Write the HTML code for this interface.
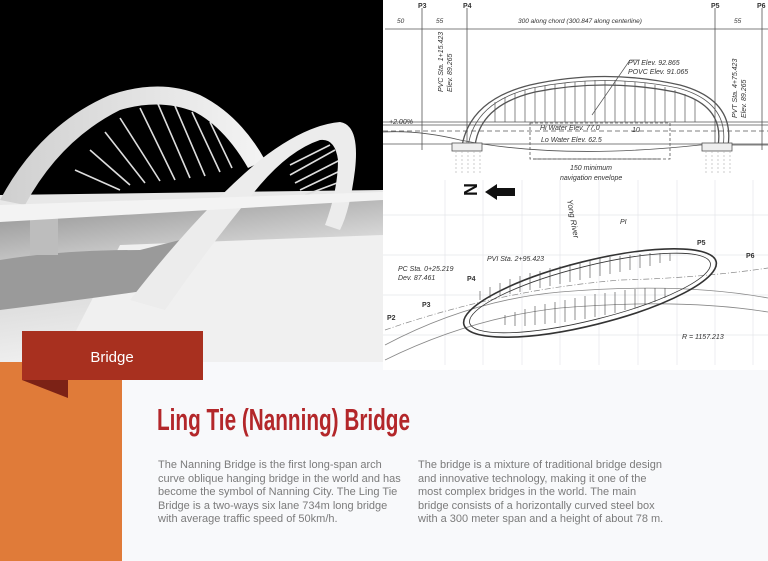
<!DOCTYPE html>
<html><head><meta charset="utf-8"><style>
*{margin:0;padding:0}
body{width:768px;height:561px;overflow:hidden;background:#f8f9fb;position:relative;font-family:"Liberation Sans",sans-serif}
svg{position:absolute;left:0;top:0}
.t{position:absolute;font-size:11px;line-height:13.6px;color:#7b7b7b;white-space:nowrap}
</style></head><body>
<svg width="768" height="561" viewBox="0 0 768 561">
<defs>
<linearGradient id="gr" x1="0" y1="0" x2="0.3" y2="1"><stop offset="0" stop-color="#8a8a8a"/><stop offset="0.5" stop-color="#d8d8d8"/><stop offset="1" stop-color="#f2f2f2"/></linearGradient>
<linearGradient id="ar" x1="0" y1="0" x2="1" y2="0"><stop offset="0" stop-color="#cfcfcf"/><stop offset="1" stop-color="#f4f4f4"/></linearGradient>
</defs>
<rect x="383" y="0" width="385" height="370" fill="#fff"/>
<g stroke="#e4e6ea" stroke-width="0.7">
<line x1="445" y1="180" x2="445" y2="365"/><line x1="483" y1="180" x2="483" y2="365"/><line x1="522" y1="180" x2="522" y2="365"/><line x1="560" y1="180" x2="560" y2="365"/><line x1="599" y1="180" x2="599" y2="365"/><line x1="638" y1="180" x2="638" y2="365"/><line x1="677" y1="180" x2="677" y2="365"/><line x1="715" y1="180" x2="715" y2="365"/><line x1="753" y1="180" x2="753" y2="365"/>
<line x1="383" y1="215" x2="768" y2="215"/><line x1="383" y1="255" x2="768" y2="255"/><line x1="383" y1="295" x2="768" y2="295"/><line x1="383" y1="335" x2="768" y2="335"/>
</g>
<g stroke="#555" stroke-width="0.8" fill="none">
<line x1="422" y1="8" x2="422" y2="150"/><line x1="467" y1="8" x2="467" y2="150"/><line x1="715" y1="8" x2="715" y2="150"/><line x1="762" y1="8" x2="762" y2="150"/>
<line x1="385" y1="29" x2="768" y2="29"/>
<line x1="383" y1="122" x2="768" y2="122"/><line x1="383" y1="125" x2="768" y2="125"/>
<line x1="383" y1="131" x2="768" y2="131" stroke-dasharray="5,3"/>
<line x1="383" y1="144" x2="768" y2="144"/>
<path d="M383 132 Q420 130 460 140 Q560 160 700 145 L768 145"/>
<path d="M462 146 Q470 100 530 85 Q605 68 680 85 Q735 100 728 146" stroke-width="1.3"/>
<path d="M475 146 Q480 105 535 92 Q605 78 675 92 Q725 105 718 146" stroke-width="1.3"/>
<path d="M468 147 Q474 102 532 88 Q605 73 678 88 Q730 102 723 147"/>
<rect x="530" y="123" width="140" height="36" stroke-dasharray="3,2"/>
<line x1="533" y1="159" x2="660" y2="159"/>
</g>
<g stroke="#555" stroke-width="0.7">
<line x1="495" y1="102" x2="495" y2="122"/><line x1="505" y1="97" x2="505" y2="122"/><line x1="515" y1="93" x2="515" y2="122"/><line x1="525" y1="90" x2="525" y2="122"/><line x1="535" y1="88" x2="535" y2="122"/><line x1="545" y1="86" x2="545" y2="122"/><line x1="555" y1="84" x2="555" y2="122"/><line x1="565" y1="83" x2="565" y2="122"/><line x1="575" y1="82" x2="575" y2="122"/><line x1="585" y1="81" x2="585" y2="122"/><line x1="595" y1="80" x2="595" y2="122"/><line x1="605" y1="80" x2="605" y2="122"/><line x1="615" y1="80" x2="615" y2="122"/><line x1="625" y1="81" x2="625" y2="122"/><line x1="635" y1="82" x2="635" y2="122"/><line x1="645" y1="83" x2="645" y2="122"/><line x1="655" y1="85" x2="655" y2="122"/><line x1="665" y1="87" x2="665" y2="122"/><line x1="675" y1="90" x2="675" y2="122"/><line x1="685" y1="94" x2="685" y2="122"/><line x1="695" y1="100" x2="695" y2="122"/>
<line x1="592" y1="115" x2="630" y2="60"/><line x1="630" y1="60" x2="640" y2="60"/>
</g>
<rect x="452" y="143" width="30" height="8" fill="#eee" stroke="#555" stroke-width="0.8"/>
<rect x="702" y="143" width="30" height="8" fill="#eee" stroke="#555" stroke-width="0.8"/>
<g stroke="#aaa" stroke-width="0.6" stroke-dasharray="2,2"><line x1="456" y1="151" x2="456" y2="175"/><line x1="462" y1="151" x2="462" y2="175"/><line x1="468" y1="151" x2="468" y2="175"/><line x1="474" y1="151" x2="474" y2="175"/><line x1="480" y1="151" x2="480" y2="175"/><line x1="706" y1="151" x2="706" y2="175"/><line x1="712" y1="151" x2="712" y2="175"/><line x1="718" y1="151" x2="718" y2="175"/><line x1="724" y1="151" x2="724" y2="175"/><line x1="730" y1="151" x2="730" y2="175"/></g>
<g font-family="Liberation Sans" font-size="7" fill="#333" font-style="italic">
<text x="397" y="23" font-size="6.5">50</text><text x="436" y="23" font-size="6.5">55</text><text x="518" y="23" font-size="6.5">300 along chord (300.847 along centerline)</text><text x="734" y="23" font-size="6.5">55</text>
<text x="628" y="65">PVI Elev. 92.865</text><text x="628" y="74">POVC Elev. 91.065</text>
<text x="389" y="124">+2.00%</text>
<text x="540" y="130">Hi Water Elev. 77.0</text><text x="541" y="142">Lo Water Elev. 62.5</text><text x="632" y="132">10</text>
<text x="570" y="170">150 minimum</text><text x="560" y="180">navigation envelope</text>
<text transform="translate(443,92) rotate(-90)">PVC Sta. 1+15.423</text><text transform="translate(452,92) rotate(-90)">Elev. 89.265</text>
<text transform="translate(737,118) rotate(-90)">PVT Sta. 4+75.423</text><text transform="translate(746,118) rotate(-90)">Elev. 89.265</text>
<text transform="translate(567,200) rotate(80)" font-size="8">Yong River</text>
<text x="487" y="261">PVI Sta. 2+95.423</text><text x="620" y="224">PI</text>
<text x="398" y="271">PC Sta. 0+25.219</text><text x="398" y="280">Dev. 87.461</text>
<text x="682" y="339">R = 1157.213</text>
</g>
<g font-family="Liberation Sans" font-size="7" font-weight="bold" fill="#333">
<text x="418" y="8">P3</text><text x="463" y="8">P4</text><text x="711" y="8">P5</text><text x="757" y="8">P6</text>
<text x="467" y="281">P4</text><text x="422" y="307">P3</text><text x="387" y="320">P2</text><text x="697" y="245">P5</text><text x="746" y="258">P6</text>
</g>
<text x="461" y="200" font-family="Liberation Sans" font-size="18" font-weight="bold" fill="#111" transform="rotate(90 471 193)">N</text>
<polygon points="485,192 497,184 497,188 515,188 515,196 497,196 497,200" fill="#111"/>
<g fill="none" stroke="#333">
<path d="M385 345 Q470 300 560 292 Q680 282 768 298" stroke="#888" stroke-width="0.8"/>
<path d="M385 360 Q470 318 560 308 Q680 298 768 312" stroke="#888" stroke-width="0.8"/>
<path d="M385 330 Q500 290 620 280 Q700 278 768 268" stroke="#888" stroke-width="0.7" stroke-dasharray="6,2,1,2"/>
<ellipse cx="590" cy="293" rx="130" ry="32" transform="rotate(-14 590 293)" stroke-width="1.6"/>
<ellipse cx="590" cy="293" rx="124" ry="27" transform="rotate(-14 590 293)" stroke-width="0.8"/>
</g>
<g stroke="#444" stroke-width="0.6">
<line x1="480" y1="291" x2="480" y2="300"/><line x1="490" y1="287" x2="490" y2="298"/><line x1="500" y1="283" x2="500" y2="296"/><line x1="510" y1="279" x2="510" y2="294"/><line x1="520" y1="276" x2="520" y2="292"/><line x1="530" y1="273" x2="530" y2="290"/><line x1="540" y1="271" x2="540" y2="288"/><line x1="550" y1="268" x2="550" y2="286"/><line x1="560" y1="266" x2="560" y2="284"/><line x1="570" y1="264" x2="570" y2="282"/><line x1="580" y1="262" x2="580" y2="280"/><line x1="590" y1="260" x2="590" y2="278"/><line x1="600" y1="258" x2="600" y2="276"/><line x1="610" y1="257" x2="610" y2="274"/><line x1="620" y1="256" x2="620" y2="272"/><line x1="630" y1="255" x2="630" y2="270"/><line x1="640" y1="254" x2="640" y2="268"/><line x1="650" y1="253" x2="650" y2="266"/><line x1="660" y1="253" x2="660" y2="263"/><line x1="670" y1="253" x2="670" y2="261"/>
<line x1="505" y1="315" x2="505" y2="325"/><line x1="515" y1="312" x2="515" y2="326"/><line x1="525" y1="309" x2="525" y2="326"/><line x1="535" y1="306" x2="535" y2="325"/><line x1="545" y1="304" x2="545" y2="324"/><line x1="555" y1="302" x2="555" y2="323"/><line x1="565" y1="300" x2="565" y2="322"/><line x1="575" y1="298" x2="575" y2="320"/><line x1="585" y1="296" x2="585" y2="319"/><line x1="595" y1="294" x2="595" y2="317"/><line x1="605" y1="293" x2="605" y2="315"/><line x1="615" y1="292" x2="615" y2="313"/><line x1="625" y1="290" x2="625" y2="310"/><line x1="635" y1="289" x2="635" y2="308"/><line x1="645" y1="288" x2="645" y2="305"/><line x1="655" y1="288" x2="655" y2="302"/><line x1="665" y1="288" x2="665" y2="298"/>
</g>
<rect x="0" y="0" width="383" height="362" fill="#000"/>
<path d="M0 200 L383 195 L383 362 L0 362 Z" fill="url(#gr)"/>
<path d="M120 245 L383 235 L383 362 L60 362 Z" fill="#f0f0f0"/>
<path d="M0 260 Q60 250 140 250 L220 230 L150 290 Q80 300 0 310 Z" fill="#9a9a9a"/>
<rect x="30" y="210" width="28" height="45" fill="#bdbdbd"/>
<path d="M0 195 L383 190 L383 198 L0 215 Z" fill="#e8e8e8"/>
<g stroke="#ddd" stroke-width="1.6">
<line x1="75" y1="170" x2="120" y2="190"/><line x1="90" y1="150" x2="130" y2="185"/><line x1="105" y1="132" x2="145" y2="183"/><line x1="120" y1="118" x2="160" y2="181"/><line x1="140" y1="108" x2="175" y2="180"/><line x1="158" y1="104" x2="190" y2="178"/><line x1="175" y1="106" x2="205" y2="176"/><line x1="192" y1="112" x2="220" y2="172"/><line x1="210" y1="122" x2="232" y2="168"/>
<line x1="290" y1="165" x2="330" y2="145"/><line x1="290" y1="175" x2="335" y2="150"/><line x1="295" y1="183" x2="340" y2="160"/><line x1="300" y1="190" x2="342" y2="170"/><line x1="305" y1="195" x2="345" y2="180"/>
</g>
<path d="M0 200 Q40 125 110 95 Q160 78 200 95 Q240 115 265 160 L248 168 Q225 128 195 112 Q160 98 120 110 Q60 140 25 205 Z" fill="url(#ar)"/>
<path d="M130 300 Q200 210 260 160 Q305 125 340 122 Q360 125 355 170 Q350 210 340 230 L325 225 Q338 190 338 160 Q335 138 320 140 Q290 150 260 185 Q210 245 165 310 Z" fill="#ececec"/>
<path d="M0 205 L383 192 L383 200 L0 222 Z" fill="#f3f3f3"/>
<rect x="0" y="362" width="122" height="199" fill="#e07b39"/>
<rect x="22" y="331" width="181" height="49" fill="#a8301f"/>
<polygon points="22,380 68,380 68,398" fill="#7c2216"/>
<text x="112" y="362" text-anchor="middle" font-family="Liberation Sans" font-size="15" fill="#fff">Bridge</text>
<text x="157" y="430" font-family="Liberation Sans" font-size="31" font-weight="bold" fill="#b3272a" textLength="253" lengthAdjust="spacingAndGlyphs">Ling Tie (Nanning) Bridge</text>
</svg>
<div class="t" style="left:158px;top:459px">The Nanning Bridge is the first long-span arch<br>curve oblique hanging bridge in the world and has<br>become the symbol of Nanning City. The Ling Tie<br>Bridge is a two-ways six lane 734m long bridge<br>with average traffic speed of 50km/h.</div>
<div class="t" style="left:418px;top:459px">The bridge is a mixture of traditional bridge design<br>and innovative technology, making it one of the<br>most complex bridges in the world. The main<br>bridge consists of a horizontally curved steel box<br>with a 300 meter span and a height of about 78 m.</div>
</body></html>
